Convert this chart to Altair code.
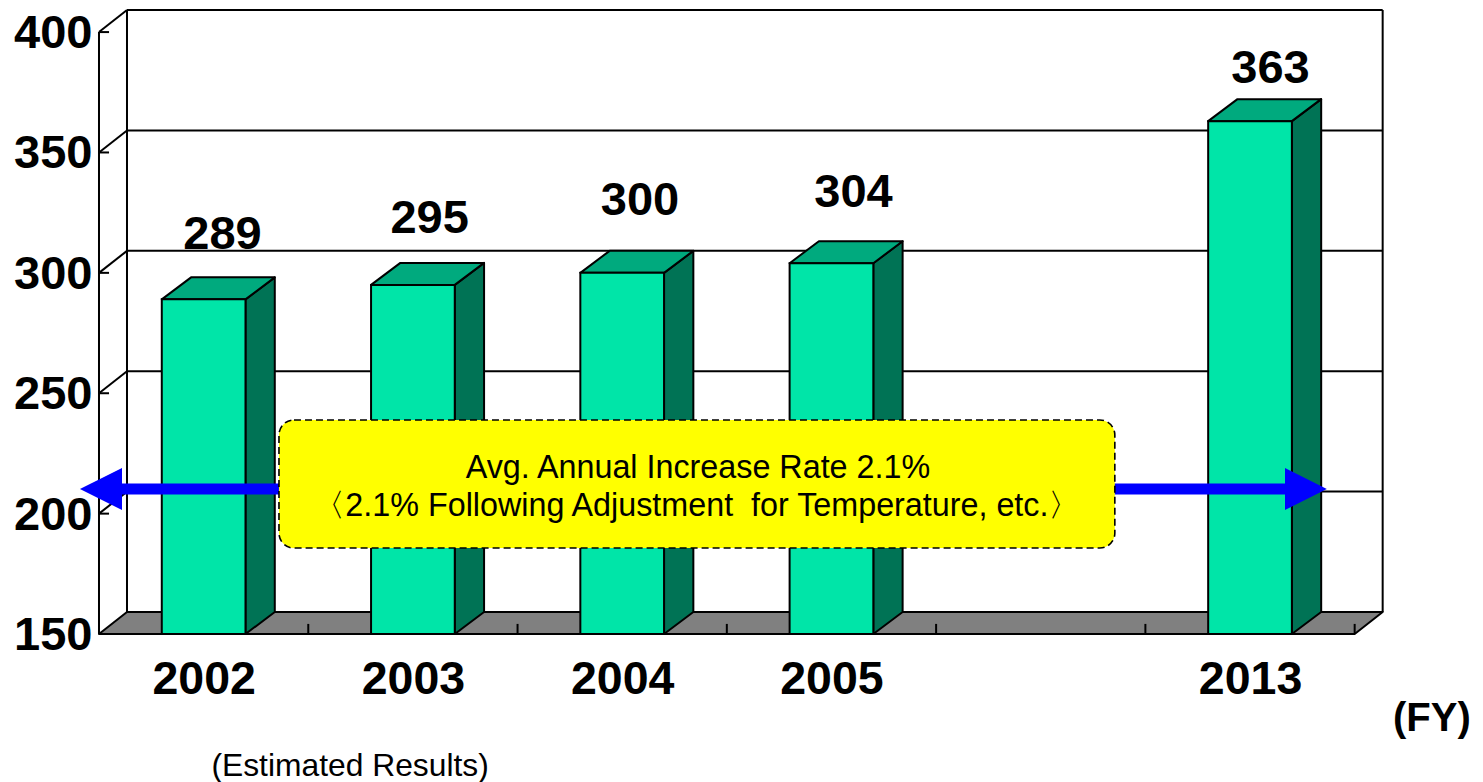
import altair as alt
import pandas as pd

# ---- chart values ----
years = ["2002", "2003", "2004", "2005", "2013"]
values = [289, 295, 300, 304, 363]
slots = [0.5, 1.5, 2.5, 3.5, 5.5]
label_x = [0.59, 1.58, 2.585, 3.605, 5.598]
label_y = [315.7, 322.5, 329.7, 333.0, 384.5]
y_ticks = [150, 200, 250, 300, 350, 400]
slot_ticks = [1, 2, 3, 4, 5, 6]

# ---- frame ----
W, H = 1467, 774
X_MIN, X_MAX = -0.4348, 6.575
Y_MIN, Y_MAX = 88.54, 410.0
SLOTS = 6
BASE = 150
WALL_TOP = 400
WALL_DX, WALL_DY = 0.1338, 9.14
BAR_DX, BAR_DY = 0.14, 9.14
BAR_W = 0.4
FONT = "Liberation Sans"
BLACK = "#000000"

x_scale = alt.Scale(domain=[X_MIN, X_MAX], nice=False, zero=False)
y_scale = alt.Scale(domain=[Y_MIN, Y_MAX], nice=False, zero=False)

label_expr = " : ".join(f"datum.value == {s} ? '{y}'" for s, y in zip(slots, years)) + " : ''"
x_axis = alt.Axis(
    values=slots, labelExpr=label_expr, domain=False, ticks=False, grid=False,
    offset=-148, labelPadding=22, labelFont=FONT, labelFontSize=46.5,
    labelFontWeight="bold", labelColor=BLACK, labelOverlap=False, labelFlush=False)
y_axis = alt.Axis(
    values=y_ticks, domain=False, ticks=False, grid=False,
    offset=-91, labelPadding=7, labelFont=FONT, labelFontSize=47, labelOffset=1.5,
    labelFontWeight="bold", labelColor=BLACK, labelOverlap=False, labelFlush=False)

X = alt.X("x:Q", scale=x_scale, title=None, axis=x_axis)
Y = alt.Y("y:Q", scale=y_scale, title=None, axis=y_axis)


def rules(rows, width=2.0, color=BLACK):
    """rows: x, x2, y, y2"""
    df = pd.DataFrame(rows, columns=["x", "x2", "y", "y2"])
    return alt.Chart(df).mark_rule(stroke=color, strokeWidth=width).encode(
        x=X, x2="x2:Q", y=Y, y2="y2:Q")


def polygons(rows, fill, width=2.0, stroke=BLACK):
    """rows: g, x, y, y2 -- sorted along x by Vega-Lite"""
    df = pd.DataFrame(rows, columns=["g", "x", "y", "y2"])
    kw = dict(fill=fill, opacity=1, interpolate="linear", orient="vertical")
    if stroke:
        kw.update(stroke=stroke, strokeWidth=width, strokeJoin="round")
    return alt.Chart(df).mark_area(**kw).encode(
        x=X, y=Y, y2="y2:Q", detail="g:N")


def texts(rows, size, weight="normal", align="center"):
    """rows: x, y, t"""
    df = pd.DataFrame(rows, columns=["x", "y", "t"])
    return alt.Chart(df).mark_text(
        font=FONT, fontSize=size, fontWeight=weight, color=BLACK,
        baseline="middle", align=align
    ).encode(x=X, y=Y, text="t:N")


# walls and grid
wall = rules(
    [[WALL_DX, SLOTS + WALL_DX, v + WALL_DY, v + WALL_DY] for v in y_ticks[1:]]
    + [[WALL_DX, WALL_DX, BASE + WALL_DY, WALL_TOP + WALL_DY],
       [SLOTS + WALL_DX, SLOTS + WALL_DX, BASE + WALL_DY, WALL_TOP + WALL_DY]])

floor = polygons(
    [["f", 0, BASE, BASE],
     ["f", WALL_DX, BASE + WALL_DY, BASE],
     ["f", SLOTS, BASE + WALL_DY, BASE],
     ["f", SLOTS + WALL_DX, BASE + WALL_DY, BASE + WALL_DY]],
    "#808080")

front_axis = rules(
    [[0, 0, BASE, WALL_TOP]]
    + [[0, WALL_DX, v, v + WALL_DY] for v in y_ticks[1:]]
    + [[0, 0.048, v, v] for v in y_ticks[1:]]
    + [[t, t, BASE, BASE + 4.2] for t in slot_ticks]
    + [[0, SLOTS, BASE, BASE]])

# bars
bars_df = pd.DataFrame({
    "x": [s - BAR_W / 2 for s in slots],
    "x2": [s + BAR_W / 2 for s in slots],
    "y": [BASE] * len(values),
    "y2": values,
    "year": years,
})
front = alt.Chart(bars_df).mark_rect(fill="#00E5A8", stroke=BLACK, strokeWidth=2).encode(
    x=X, x2="x2:Q", y=Y, y2="y2:Q")

side_rows, top_rows = [], []
for s, v, yr in zip(slots, values, years):
    l, r = s - BAR_W / 2, s + BAR_W / 2
    side_rows += [[yr, r, v, BASE], [yr, r + BAR_DX, v + BAR_DY, BASE + BAR_DY]]
    top_rows += [[yr, l, v, v],
                 [yr, l + BAR_DX, v + BAR_DY, v],
                 [yr, r, v + BAR_DY, v],
                 [yr, r + BAR_DX, v + BAR_DY, v + BAR_DY]]
side = polygons(side_rows, "#007355")
top = polygons(top_rows, "#00AA7E")

# value labels
labels = texts([[x, y, str(v)] for x, y, v in zip(label_x, label_y, values)], 47, "bold")

# growth arrow
ARROW_Y = 210.2
shaft = rules([[0.05, 5.72, ARROW_Y, ARROW_Y]], width=11, color="#0000FF")
heads = polygons(
    [["l", -0.091, ARROW_Y, ARROW_Y],
     ["l", 0.11, ARROW_Y + 8.7, ARROW_Y - 8.7],
     ["r", 5.667, ARROW_Y + 8.7, ARROW_Y - 8.7],
     ["r", 5.867, ARROW_Y, ARROW_Y]],
    "#0000FF", stroke=None)

# call-out
box_df = pd.DataFrame({"x": [0.86], "x2": [4.854], "y": [185.7], "y2": [238.9]})
box = alt.Chart(box_df).mark_rect(
    fill="#FFFF00", stroke=BLACK, strokeWidth=1.6, strokeDash=[7, 4], cornerRadius=15
).encode(x=X, x2="x2:Q", y=Y, y2="y2:Q")

callout = texts(
    [[2.862, 219.0, "Avg. Annual Increase Rate 2.1%"],
     [2.857, 203.3, "〈2.1% Following Adjustment\u00a0 for Temperature, etc.〉"]],
    32.3)
estimated = texts([[1.2, 95.2, "(Estimated Results)"]], 31.8)
fy = texts([[6.555, 114.7, "(FY)"]], 40, "bold", "right")

chart = alt.layer(
    wall, floor, front_axis, side, top, front, labels, shaft, heads, box, callout, estimated, fy
).properties(
    width=W, height=H, padding=0, autosize=alt.AutoSizeParams(type="none"),
    background="white",
).configure_view(stroke=None)

chart.save("out.html", embed_options={"renderer": "svg", "actions": False})
